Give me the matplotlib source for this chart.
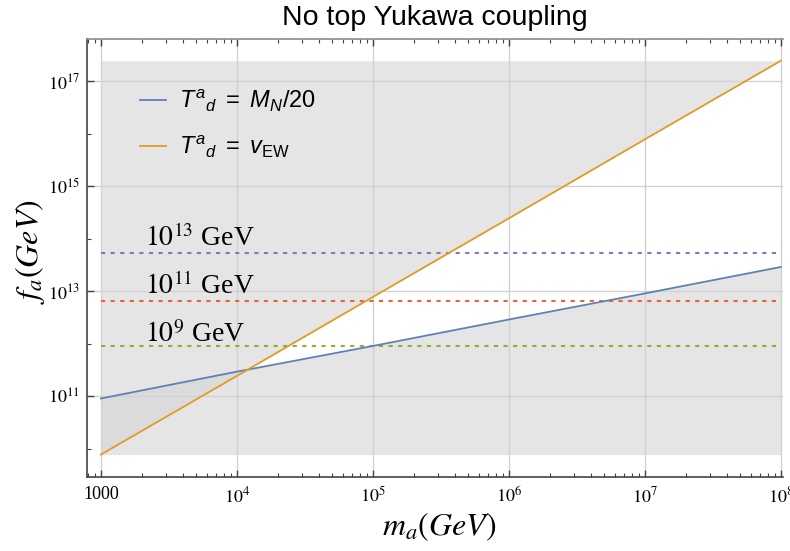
import matplotlib.pyplot as plt
from matplotlib.ticker import FixedLocator, NullFormatter

# axion mass (GeV) and decay constant values read at each decade
m_a = [1e3, 1e4, 1e5, 1e6, 1e7, 1e8]
f_mn20 = [9.1e10, 2.95e11, 9.1e11, 2.9e12, 9.1e12, 2.9e13]   # T^a_d = M_N/20
f_vew = [7.8e9, 2.45e11, 7.8e12, 2.45e14, 7.8e15, 2.45e17]   # T^a_d = v_EW

# reference scales (horizontal dotted lines)
ref_levels = [5.25e13, 6.6e12, 9.1e11]
ref_labels = [r"$10^{13}$ GeV", r"$10^{11}$ GeV", r"$10^{9}$ GeV"]
ref_label_y = [7.4e13, 8.9e12, 1.07e12]
ref_colors = ["#8778b3", "#eb6235", "#8fb131"]

band_lo, band_hi = 7.8e9, 2.45e17

x_ticks = [1e3, 1e4, 1e5, 1e6, 1e7, 1e8]
x_ticklabels = ["1000", r"$10^{4}$", r"$10^{5}$", r"$10^{6}$", r"$10^{7}$", r"$10^{8}$"]
y_ticks = [1e11, 1e13, 1e15, 1e17]
y_ticklabels = [r"$10^{11}$", r"$10^{13}$", r"$10^{15}$", r"$10^{17}$"]
y_minor = [1e10, 1e12, 1e14, 1e16]

plt.rcParams["mathtext.fontset"] = "custom"
plt.rcParams["mathtext.rm"] = "Liberation Sans"
plt.rcParams["mathtext.it"] = "Liberation Sans:italic"

fig = plt.figure(figsize=(7.9, 5.51), dpi=100)
ax = fig.add_axes([0.1097, 0.1352, 0.8813, 0.7938])
ax.set_xscale("log")
ax.set_yscale("log")

blue = "#5e81b5"
orange = "#e19c24"
shade = "#d5d5d5"

# excluded regions: above the v_EW line and below the M_N/20 line
ax.fill_between(m_a, f_vew, band_hi, color=shade, alpha=0.6, lw=0)
ax.fill_between(m_a, band_lo, f_mn20, color=shade, alpha=0.6, lw=0)

for lev, col in zip(ref_levels, ref_colors):
    ax.plot([m_a[0], m_a[-1]], [lev, lev], color=col, lw=1.5, ls=(0, (2.0, 2.6)))
for lab, yy in zip(ref_labels, ref_label_y):
    ax.text(2.1e3, yy, lab, fontsize=20, family="Liberation Serif",
            math_fontfamily="stix", va="baseline", ha="left")

ax.plot(m_a, f_mn20, color=blue, lw=1.3,
        label=r"$T^{a}{}_{d}\ =\ M_{N}\mathit{/20}$")
ax.plot(m_a, f_vew, color=orange, lw=1.3,
        label=r"$T^{a}{}_{d}\ =\ v_{\mathrm{EW}}$")

ax.set_xlim(10 ** 2.895, 10 ** 8.0147)
ax.set_ylim(10 ** 9.474, 10 ** 17.80)

ax.set_axisbelow("line")
ax.grid(True, which="major", color="#d2d2d2", lw=1)

ax.xaxis.set_major_locator(FixedLocator(x_ticks))
ax.set_xticklabels(x_ticklabels, fontsize=13, family="Liberation Serif",
                   math_fontfamily="stix")
ax.yaxis.set_major_locator(FixedLocator(y_ticks))
ax.yaxis.set_minor_locator(FixedLocator(y_minor))
ax.yaxis.set_minor_formatter(NullFormatter())
ax.set_yticklabels(y_ticklabels, fontsize=13, family="Liberation Serif",
                   math_fontfamily="stix")

ax.tick_params(which="both", direction="in", top=True, right=False,
               color="#444444")
ax.tick_params(which="major", length=5, width=1, pad=7)
ax.tick_params(which="minor", length=3, width=0.8)
ax.tick_params(axis="y", pad=5)

for side in ["left", "bottom"]:
    ax.spines[side].set_color("#444444")
    ax.spines[side].set_linewidth(1.2)
ax.spines["top"].set_color("#8a8a8a")
ax.spines["top"].set_linewidth(1.2)
ax.spines["right"].set_visible(False)

ax.set_title("No top Yukawa coupling", fontsize=20.5, family="Liberation Sans",
             pad=10)
ax.set_xlabel(r"$m_a(GeV)$", fontsize=23, math_fontfamily="stix")
ax.set_ylabel(r"$f_a(GeV)$", fontsize=23, math_fontfamily="stix")
ax.xaxis.label.set_va("center")
ax.yaxis.label.set_va("center")
ax.xaxis.set_label_coords(0.506, -0.115)
ax.yaxis.set_label_coords(-0.081, 0.515)

ax.legend(loc="upper left", bbox_to_anchor=(0.046, 0.937), frameon=False,
          fontsize=17, handlelength=1.1, handletextpad=0.55,
          labelspacing=0.83)

fig.savefig("out.png", dpi=100)
